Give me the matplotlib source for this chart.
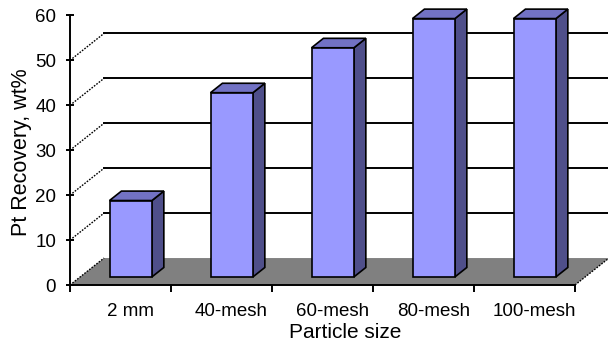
import numpy as np
import matplotlib
matplotlib.use("Agg")
import matplotlib.pyplot as plt
from matplotlib.patches import Polygon

plt.rcParams['font.family'] = ['Liberation Sans', 'DejaVu Sans']

sizes = ['2 mm', '40-mesh', '60-mesh', '80-mesh', '100-mesh']
recovery = [17, 41, 51, 57.5, 57.5]
yticks = [0, 10, 20, 30, 40, 50, 60]

# pseudo-3D depth of the chart box (category units, wt% units)
DX, DY = 0.337, 6.0
bar_w = 0.42
d_front, d_back = 0.30, 0.65

front_c = '#9999ff'
top_c = '#7272c4'
side_c = '#4f4f8a'

fig = plt.figure(figsize=(6.08, 3.48), dpi=100)
ax = fig.add_axes([70 / 608, 63 / 348, 538 / 608, 285 / 348])
ax.set_xlim(0, 538 / 101)
ax.set_ylim(0, 285 / 4.493)
ax.patch.set_visible(False)

n = len(sizes)
dots = (0, (1.2, 1.0))

# floor
floor = Polygon([(0, 0), (n, 0), (n + DX, DY), (DX, DY)], closed=True,
                facecolor='#808080', edgecolor='none', zorder=1)
ax.add_patch(floor)
ax.plot([0, DX], [0, DY], color='black', lw=1.0, ls=dots, zorder=2)
ax.plot([n, n + DX], [0, DY], color='black', lw=1.0, ls=dots, zorder=2)

# back wall gridlines and left wall diagonals
for v in yticks[1:-1]:
    ax.plot([DX, n + 1], [v + DY, v + DY], color='black', lw=1.4, zorder=2)
    ax.plot([0, DX], [v, v + DY], color='black', lw=1.0, ls=dots, zorder=2)

# bars as boxes
for i, val in enumerate(recovery):
    x0 = i + 0.5 - bar_w / 2 + d_front * DX
    y0 = d_front * DY
    ddx = (d_back - d_front) * DX
    ddy = (d_back - d_front) * DY
    x1 = x0 + bar_w
    y1 = val + y0
    front = Polygon([(x0, y0), (x1, y0), (x1, y1), (x0, y1)],
                    facecolor=front_c, edgecolor='black', lw=1.2, zorder=5)
    side = Polygon([(x1, y0), (x1 + ddx, y0 + ddy), (x1 + ddx, y1 + ddy),
                    (x1, y1)], facecolor=side_c, edgecolor='black', lw=1.2,
                   zorder=4)
    top = Polygon([(x0, y1), (x1, y1), (x1 + ddx, y1 + ddy),
                   (x0 + ddx, y1 + ddy)], facecolor=top_c, edgecolor='black',
                  lw=1.2, zorder=4)
    for p in (side, top, front):
        p.set_clip_on(False)
        ax.add_patch(p)

# axes
for s in ('top', 'right'):
    ax.spines[s].set_visible(False)
ax.spines['left'].set_bounds(0, 60)
ax.spines['bottom'].set_bounds(0, n)
for s in ('left', 'bottom'):
    ax.spines[s].set_linewidth(1.4)
    ax.spines[s].set_zorder(6)

ax.set_yticks(yticks)
ax.tick_params(axis='y', direction='inout', length=6, width=1.4, pad=7,
               labelsize=13.5)
ax.set_xticks(np.arange(0, n + 1))
ax.set_xticklabels([])
ax.tick_params(axis='x', which='major', direction='out', length=5, width=1.4)
ax.set_xticks(np.arange(n) + 0.6, minor=True)
ax.set_xticklabels(sizes, minor=True)
ax.tick_params(axis='x', which='minor', length=0, pad=13, labelsize=13.5)

fig.text(345 / 608, 1 - 333 / 348, 'Particle size', ha='center',
         va='center', fontsize=15)
fig.text(21 / 608, 1 - 152 / 348, 'Pt Recovery, wt%', ha='center',
         va='center', rotation=90, fontsize=15.5)

fig.savefig('out.png', dpi=100)
